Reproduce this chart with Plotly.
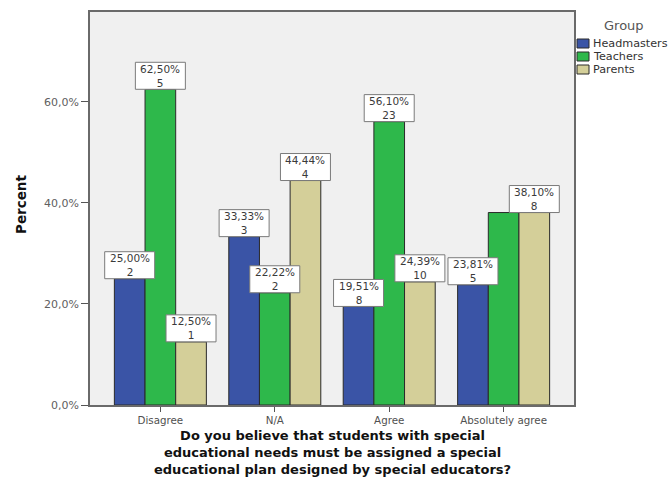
import plotly.graph_objects as go

# Answer categories and respondent groups
answers = ["Disagree", "N/A", "Agree", "Absolutely agree"]
groups = ["Headmasters", "Teachers", "Parents"]

# Percent within each answer category
pct_headmasters = [25.00, 33.33, 19.51, 23.81]
pct_teachers = [62.50, 22.22, 56.10, 38.10]
pct_parents = [12.50, 44.44, 24.39, 38.10]

# Respondent counts
n_headmasters = [2, 3, 8, 5]
n_teachers = [5, 2, 23, 8]
n_parents = [1, 4, 10, 8]

# Which bars carry a value label (the Teachers/Absolutely agree label is suppressed)
show_headmasters = [True, True, True, True]
show_teachers = [True, True, True, False]
show_parents = [True, True, True, True]

y_ticks = [0, 20, 40, 60]
y_tick_text = ["0,0%", "20,0%", "40,0%", "60,0%"]

x_title_lines = [
    "Do you believe that students with special",
    "educational needs must be assigned a special",
    "educational plan designed by special educators?",
]

colors = ["#3a54a6", "#2eb84b", "#d4cf99"]
series = [
    (pct_headmasters, n_headmasters, show_headmasters),
    (pct_teachers, n_teachers, show_teachers),
    (pct_parents, n_parents, show_parents),
]

W, H = 670, 477
L, R, T, B = 90, 96, 12, 72
plot_w, plot_h = W - L - R, H - T - B


def px_x(px):
    return (px - L) / plot_w


def px_y(py):
    return (H - B - py) / plot_h


bargap = 0.196
fig = go.Figure()
for name, color, (pct, cnt, _) in zip(groups, colors, series):
    fig.add_trace(go.Bar(
        name=name, x=answers, y=pct,
        marker=dict(color=color, line=dict(color="#2a2a2a", width=1)),
        hoverinfo="skip", showlegend=False,
    ))

# Value boxes centred over each bar: a pixel-sized frame holding percent and count
bar_w = (1 - bargap) / len(groups)
annotations = []
shapes = []
label_font = dict(family="DejaVu Sans", size=10.5, color="#3a3a3a")
for gi, (pct, cnt, show) in enumerate(series):
    offset = (gi - (len(groups) - 1) / 2) * bar_w
    for ci, (v, n, s) in enumerate(zip(pct, cnt, show)):
        if not s:
            continue
        xc = ci + offset
        shapes.append(dict(
            type="rect", xref="x", yref="y",
            xsizemode="pixel", xanchor=xc, x0=-25, x1=25,
            ysizemode="pixel", yanchor=v, y0=0, y1=27,
            fillcolor="white", line=dict(color="#7a7a7a", width=1),
            layer="above",
        ))
        label = f"{v:.2f}".replace(".", ",") + "%<br>" + str(n)
        annotations.append(dict(
            x=xc, y=v, xref="x", yref="y", yshift=13.5,
            text=label, showarrow=False, yanchor="middle", xanchor="center",
            font=label_font, align="center", borderpad=0,
        ))

# Axis titles
annotations.append(dict(
    x=px_x(332), y=px_y(452), xref="paper", yref="paper",
    text="<br>".join(x_title_lines), showarrow=False,
    xanchor="center", yanchor="middle", align="center", borderpad=0,
    font=dict(family="DejaVu Sans", size=13, color="#111", weight="bold"),
))
annotations.append(dict(
    x=px_x(21), y=px_y(205), xref="paper", yref="paper",
    text="Percent", showarrow=False, textangle=-90,
    xanchor="center", yanchor="middle",
    font=dict(family="DejaVu Sans", size=13.5, color="#111", weight="bold"),
))

# Legend block
annotations.append(dict(
    x=px_x(624), y=px_y(25), xref="paper", yref="paper",
    text="Group", showarrow=False, xanchor="center", yanchor="middle",
    font=dict(family="DejaVu Sans", size=13, color="#555"),
))
for i, (name, color) in enumerate(zip(groups, colors)):
    top = 39 + 13 * i
    shapes.append(dict(
        type="rect", xref="paper", yref="paper",
        x0=px_x(577), x1=px_x(589), y0=px_y(top + 9), y1=px_y(top),
        fillcolor=color, line=dict(color="#2a2a2a", width=1),
    ))
    annotations.append(dict(
        x=px_x(592), y=px_y(top + 4.5), xref="paper", yref="paper",
        text=name, showarrow=False, xanchor="left", yanchor="middle",
        font=dict(family="DejaVu Sans", size=11.2, color="#333"),
        borderpad=0,
    ))

fig.update_layout(
    width=W, height=H,
    margin=dict(l=L, r=R, t=T, b=B, autoexpand=False),
    paper_bgcolor="white", plot_bgcolor="#f0f0f0",
    barmode="group", bargap=bargap, bargroupgap=0,
    showlegend=False,
    annotations=annotations,
    shapes=shapes,
    xaxis=dict(
        type="category", range=[-0.615, 3.615],
        showline=True, linecolor="#6a6a6a", linewidth=1.5, mirror=True,
        ticks="outside", ticklen=5, tickcolor="#555",
        tickfont=dict(family="DejaVu Sans", size=10.3, color="#505050"),
        showgrid=False,
    ),
    yaxis=dict(
        range=[0, 77.8], tickmode="array", tickvals=y_ticks, ticktext=y_tick_text,
        showline=True, linecolor="#6a6a6a", linewidth=1.5, mirror=True,
        ticks="outside", ticklen=7, tickcolor="#555",
        tickfont=dict(family="DejaVu Sans", size=11, color="#606060"),
        showgrid=False, zeroline=False,
    ),
)

fig.write_html("out.html")
